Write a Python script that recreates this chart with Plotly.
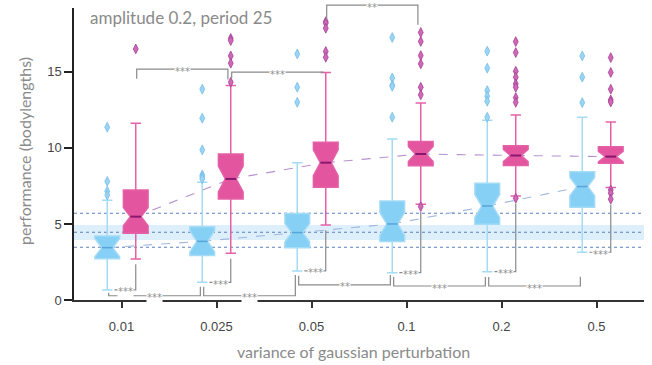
import plotly.graph_objects as go

# ---------------- data ----------------
categories = ["0.01", "0.025", "0.05", "0.1", "0.2", "0.5"]

blue_q1 = [2.72, 2.92, 3.44, 3.84, 4.98, 6.10]
blue_med = [3.44, 3.86, 4.43, 5.00, 6.18, 7.46]
blue_q3 = [4.21, 4.82, 5.68, 6.51, 7.68, 8.44]
blue_lo = [0.66, 1.16, 1.91, 1.80, 1.86, 3.14]
blue_hi = [6.56, 7.75, 9.03, 10.59, 11.82, 12.02]
blue_notch = [0.60, 0.70, 0.60, 0.75, 0.75, 0.60]
blue_out = [
    [11.36, 7.80, 7.15, 6.90],
    [13.86, 11.95, 9.87, 8.22, 8.11, 7.96],
    [16.18, 13.99, 13.00],
    [17.26, 14.60, 14.12, 14.05, 12.02],
    [16.36, 15.24, 13.77, 13.40, 13.07, 12.02],
    [16.05, 14.65, 12.98],
]

pink_q1 = [4.39, 6.64, 7.41, 8.82, 8.84, 8.99]
pink_med = [5.48, 7.96, 9.03, 9.60, 9.50, 9.43]
pink_q3 = [7.24, 9.60, 10.37, 10.42, 10.15, 10.07]
pink_lo = [2.70, 3.07, 4.93, 6.29, 6.84, 7.39]
pink_hi = [11.62, 14.10, 14.96, 12.96, 12.17, 11.71]
pink_notch = [0.60, 0.85, 0.85, 0.50, 0.40, 0.35]
pink_out = [
    [16.51],
    [17.20, 17.06, 16.05, 15.57, 14.32],
    [18.30, 18.20, 17.87, 16.34, 15.96],
    [17.59, 17.00, 16.07, 15.53, 13.99, 13.49, 6.14],
    [16.99, 16.27, 15.04, 14.65, 14.21, 13.99, 13.31, 13.00, 6.69],
    [15.94, 14.96, 13.86, 13.16, 13.02, 7.24, 7.02, 6.63],
]

# reference band (mean +- sd) and limits
ref_center = 4.45
ref_band = [3.95, 4.93]
ref_limits = [3.47, 5.70]

# significance annotations
# top brackets between pink boxes: (cat a, cat b, label, line level, leg end a, leg end b)
top_brackets = [
    (0, 1, "***", 15.18, 14.54, 14.50),
    (1, 2, "***", 14.99, 14.60, 14.92),
    (2, 3, "**", 19.39, 18.40, 18.10),
]
# bottom brackets between blue boxes
bottom_brackets = [
    (0, 1, "***", 0.28, 0.48, 0.875),
    (1, 2, "***", 0.28, 0.875, 1.64),
    (2, 3, "**", 0.99, 1.60, 1.64),
    (3, 4, "***", 0.92, 1.51, 1.51),
    (4, 5, "***", 0.92, 1.51, 1.53),
]
# within-category (blue vs pink)
within_labels = ["***", "***", "***", "***", "***", "***"]

title_text = "amplitude 0.2, period 25"
xlabel = "variance of gaussian perturbation"
ylabel = "performance (bodylengths)"

# ---------------- style ----------------
BLUE_FILL = "#86cff5"
BLUE_LINE = "#a4dbf5"
BLUE_MED = "#55a6da"
BLUE_OUT = "#9bd5f4"
BLUE_OUT_EDGE = "#74bde9"
PINK_FILL = "#e3559e"
PINK_LINE = "#e561a7"
PINK_MED = "#8a176f"
PINK_OUT = "#cf69b6"
PINK_OUT_EDGE = "#a43f96"
BRACKET = "#8a8a8a"
OFFSET = 0.15
WIDTH = 0.26
NOTCHW = 0.28
YMIN, YMAX = 0.0, 19.2
FONT = "Lato"

fig = go.Figure()

n = len(categories)
bx = [i - OFFSET for i in range(n)]
px_ = [i + OFFSET for i in range(n)]

for i in range(n):
    fig.add_trace(go.Box(
        x=[bx[i]], q1=[blue_q1[i]], median=[blue_med[i]], q3=[blue_q3[i]],
        lowerfence=[blue_lo[i]], upperfence=[blue_hi[i]], notchspan=[blue_notch[i]],
        notched=True, notchwidth=NOTCHW, width=WIDTH, whiskerwidth=0.42,
        fillcolor=BLUE_FILL, line=dict(color=BLUE_LINE, width=1.5),
        boxpoints=False, showlegend=False, hoverinfo="skip"))
    fig.add_trace(go.Box(
        x=[px_[i]], q1=[pink_q1[i]], median=[pink_med[i]], q3=[pink_q3[i]],
        lowerfence=[pink_lo[i]], upperfence=[pink_hi[i]], notchspan=[pink_notch[i]],
        notched=True, notchwidth=NOTCHW, width=WIDTH, whiskerwidth=0.42,
        fillcolor=PINK_FILL, line=dict(color=PINK_LINE, width=1.5),
        boxpoints=False, showlegend=False, hoverinfo="skip"))

# outliers
ox, oy = [], []
for i, vals in enumerate(blue_out):
    ox += [bx[i]] * len(vals)
    oy += vals
fig.add_trace(go.Scatter(x=ox, y=oy, mode="markers", cliponaxis=False,
                         marker=dict(symbol="diamond-tall", size=7, color=BLUE_OUT,
                                     line=dict(color=BLUE_OUT_EDGE, width=0.8)),
                         showlegend=False, hoverinfo="skip"))
ox, oy = [], []
for i, vals in enumerate(pink_out):
    ox += [px_[i]] * len(vals)
    oy += vals
fig.add_trace(go.Scatter(x=ox, y=oy, mode="markers", cliponaxis=False,
                         marker=dict(symbol="diamond-tall", size=7, color=PINK_OUT,
                                     line=dict(color=PINK_OUT_EDGE, width=0.8)),
                         showlegend=False, hoverinfo="skip"))

shapes = []
# reference band and lines (below traces)
shapes.append(dict(type="rect", xref="x domain", yref="y", x0=0, x1=1,
                   y0=ref_band[0], y1=ref_band[1], fillcolor="#dcefFB",
                   line=dict(width=0), layer="below"))
for v in [ref_limits[0], ref_center, ref_limits[1]]:
    shapes.append(dict(type="line", xref="x domain", yref="y", x0=0, x1=1, y0=v, y1=v,
                       line=dict(color="#5b7fc0", width=1.1, dash="dot"), layer="below"))
# median-connecting dashed lines (below traces)
for i in range(n - 1):
    shapes.append(dict(type="line", xref="x", yref="y", x0=px_[i], x1=px_[i + 1],
                       y0=pink_med[i], y1=pink_med[i + 1],
                       line=dict(color="#b592cf", width=1.1, dash="dash"), layer="below"))
    shapes.append(dict(type="line", xref="x", yref="y", x0=bx[i], x1=bx[i + 1],
                       y0=blue_med[i], y1=blue_med[i + 1],
                       line=dict(color="#9fb8dd", width=1.1, dash="dash"), layer="below"))
# median lines across notch waist
half_waist = WIDTH / 2 * (1 - 2 * NOTCHW)
for i in range(n):
    shapes.append(dict(type="line", xref="x", yref="y", x0=bx[i] - half_waist,
                       x1=bx[i] + half_waist, y0=blue_med[i], y1=blue_med[i],
                       line=dict(color=BLUE_MED, width=1.6)))
    shapes.append(dict(type="line", xref="x", yref="y", x0=px_[i] - half_waist,
                       x1=px_[i] + half_waist, y0=pink_med[i], y1=pink_med[i],
                       line=dict(color=PINK_MED, width=2)))


def py(v):
    return (v - YMIN) / (YMAX - YMIN)


annotations = []
STAR_FONT = dict(size=10, color="#8f8f8f", family="DejaVu Sans")


def bracket(xa, xb, level, ya, yb, label):
    path = f"M {xa},{py(ya)} L {xa},{py(level)} L {xb},{py(level)} L {xb},{py(yb)}"
    shapes.append(dict(type="path", xref="x", yref="paper", path=path,
                       line=dict(color=BRACKET, width=1.2)))
    annotations.append(dict(x=(xa + xb) / 2, y=py(level), xref="x", yref="paper",
                            text=label, showarrow=False, bgcolor="white", borderpad=0,
                            font=STAR_FONT, xanchor="center", yanchor="middle", yshift=-2))


for a, b, lab, lev, ya, yb in top_brackets:
    bracket(px_[a] + 0.01, px_[b] - 0.03, lev, ya, yb, lab)
for a, b, lab, lev, ya, yb in bottom_brackets:
    bracket(bx[a] + 0.015, bx[b] - 0.02, lev, ya, yb, lab)
for i, lab in enumerate(within_labels):
    leg_top = min([pink_lo[i]] + pink_out[i]) - 0.35
    lev = blue_lo[i]
    x0 = bx[i] + 0.075
    x1 = px_[i]
    path = f"M {x0},{py(lev)} L {x1},{py(lev)} L {x1},{py(leg_top)}"
    shapes.append(dict(type="path", xref="x", yref="paper", path=path,
                       line=dict(color=BRACKET, width=1.2)))
    annotations.append(dict(x=(x0 + x1) / 2, y=py(lev), xref="x", yref="paper",
                            text=lab, showarrow=False, bgcolor="white", borderpad=0,
                            font=STAR_FONT, xanchor="center", yanchor="middle", yshift=-2))

annotations.append(dict(x=0.025, y=0.969, xref="paper", yref="paper", text=title_text,
                        showarrow=False, xanchor="left", yanchor="middle",
                        font=dict(size=17, color="#8a8a8a", family=FONT)))
annotations.append(dict(x=-0.088, y=0.51, xref="paper", yref="paper", text=ylabel,
                        showarrow=False, textangle=-90, xanchor="center", yanchor="middle",
                        font=dict(size=16, color="#8a8a8a", family=FONT)))
annotations.append(dict(x=0.49, y=-0.178, xref="paper", yref="paper", text=xlabel,
                        showarrow=False, xanchor="center", yanchor="middle",
                        font=dict(size=16, color="#8a8a8a", family=FONT)))

fig.update_layout(
    width=652, height=365,
    margin=dict(l=74, r=8, t=8, b=65),
    paper_bgcolor="white", plot_bgcolor="white",
    shapes=shapes, annotations=annotations,
    showlegend=False,
    xaxis=dict(range=[-0.5, n - 0.5], tickvals=list(range(n)), ticktext=categories,
               showline=True, linecolor="#333333", linewidth=1.5, showgrid=False,
               zeroline=False, ticks="outside", ticklen=6, tickwidth=1.5,
               tickcolor="#333333", ticklabelstandoff=8,
               tickfont=dict(size=13, color="#444444", family="Liberation Sans")),
    yaxis=dict(range=[YMIN, YMAX], tickvals=[0, 5, 10, 15],
               showline=True, linecolor="#222222", linewidth=1.5, showgrid=False,
               zeroline=False, ticks="outside", ticklen=8, tickwidth=1.5,
               tickcolor="#222222",
               tickfont=dict(size=13, color="#444444", family="Liberation Sans")),
)

fig.write_html("out.html", config={"displayModeBar": False},
               post_script="document.body.style.margin='0';document.body.style.overflow='hidden';")
